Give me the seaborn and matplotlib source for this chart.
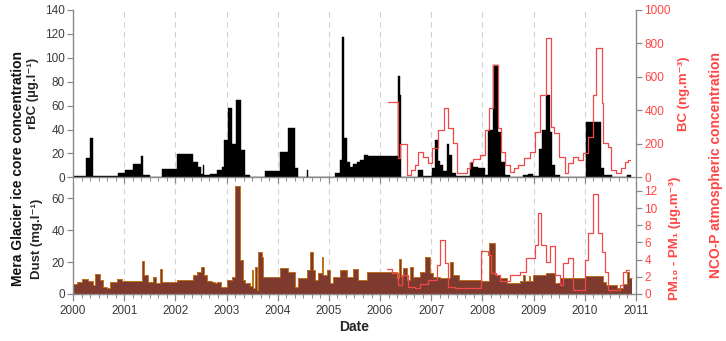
import numpy as np
import pandas as pd
import matplotlib
matplotlib.use("Agg")
import matplotlib.pyplot as plt
import seaborn as sns
from matplotlib.ticker import MultipleLocator, FixedLocator

# ---------------- data (decimal years) ----------------
# Mera glacier ice core rBC (ug/l): sample start dates and values
rbc_start = [2000.000, 2000.254, 2000.332, 2000.384, 2000.885, 2001.016, 2001.178, 2001.328,
             2001.374, 2001.504, 2001.732, 2002.025, 2002.337, 2002.435, 2002.493, 2002.533,
             2002.559, 2002.676, 2002.806, 2002.904, 2002.949, 2003.034, 2003.112, 2003.177,
             2003.275, 2003.359, 2003.457, 2003.750, 2004.043, 2004.206, 2004.336, 2004.401,
             2004.564, 2004.596, 2005.117, 2005.215, 2005.247, 2005.299, 2005.345, 2005.410,
             2005.475, 2005.540, 2005.605, 2005.690, 2005.768, 2006.354, 2006.380, 2006.406,
             2006.745, 2006.842, 2007.005, 2007.080, 2007.130, 2007.170, 2007.230, 2007.300,
             2007.350, 2007.410, 2007.490, 2007.750, 2007.820, 2007.920, 2008.050, 2008.110,
             2008.210, 2008.310, 2008.370, 2008.440, 2008.530, 2008.790, 2008.890, 2008.990,
             2009.110, 2009.160, 2009.240, 2009.310, 2009.350, 2009.410, 2009.510, 2010.020,
             2010.320, 2010.380, 2010.540, 2010.830]
rbc_end = 2010.900
rbc_value = [1.0, 16.5, 33, 0.8, 3.4, 6, 11, 18,
             2, 0.5, 7, 19.5, 13, 9, 3, 10,
             2, 3, 6, 9, 31, 58, 28, 65,
             22.6, 2, 0.6, 5.6, 21.5, 41.6, 7.5, 0.5,
             6, 0.3, 3.4, 14.5, 117, 33, 13, 9,
             11, 13, 14.5, 18.7, 18, 85, 69, 0.5,
             6, 1, 8, 31, 14, 10, 5, 28,
             19, 3.4, 1, 12, 9, 7.5, 2, 40,
             94, 38, 13, 2, 0.5, 2, 3, 1.5,
             24, 40, 69, 38, 10, 2, 0.6, 46,
             7.5, 2, 0.5, 2]

# NCO-P atmospheric BC (ng/m3)
bc_start = [2006.159, 2006.341, 2006.387, 2006.517, 2006.600, 2006.680, 2006.745, 2006.843,
            2006.940, 2007.005, 2007.135, 2007.246, 2007.331, 2007.428, 2007.493, 2007.690,
            2007.754, 2007.819, 2007.949, 2008.050, 2008.130, 2008.210, 2008.310, 2008.370,
            2008.440, 2008.530, 2008.610, 2008.690, 2008.820, 2008.920, 2009.020, 2009.120,
            2009.250, 2009.336, 2009.395, 2009.500, 2009.610, 2009.675, 2009.772, 2009.870,
            2009.967, 2010.065, 2010.163, 2010.228, 2010.326, 2010.358, 2010.456, 2010.521,
            2010.618, 2010.716, 2010.781, 2010.846]
bc_end = 2010.879
bc_value = [452, 114, 198, 14, 44, 74, 153, 124,
            84, 173, 283, 416, 293, 203, 28, 54,
            94, 108, 134, 283, 413, 673, 293, 154,
            74, 34, 54, 74, 114, 154, 273, 493,
            830, 303, 267, 124, 24, 84, 124, 104,
            143, 243, 492, 771, 442, 203, 183, 44,
            24, 54, 94, 104]

# Mera glacier ice core dust (mg/l)
dust_start = [2000.000, 2000.070, 2000.170, 2000.300, 2000.400, 2000.430, 2000.530, 2000.590,
              2000.660, 2000.720, 2000.850, 2000.950, 2001.340, 2001.390, 2001.470, 2001.570,
              2001.620, 2001.700, 2001.740, 2002.030, 2002.350, 2002.420, 2002.510, 2002.550,
              2002.610, 2002.710, 2002.770, 2002.810, 2002.900, 2003.000, 2003.100, 2003.160,
              2003.260, 2003.330, 2003.360, 2003.460, 2003.490, 2003.520, 2003.555, 2003.587,
              2003.620, 2003.685, 2003.717, 2004.043, 2004.206, 2004.336, 2004.401, 2004.564,
              2004.629, 2004.681, 2004.727, 2004.792, 2004.857, 2004.889, 2004.954, 2005.020,
              2005.085, 2005.215, 2005.345, 2005.475, 2005.573, 2005.736, 2006.322, 2006.360,
              2006.400, 2006.452, 2006.517, 2006.582, 2006.647, 2006.777, 2006.875, 2006.973,
              2007.038, 2007.168, 2007.360, 2007.420, 2007.550, 2007.980, 2008.130, 2008.240,
              2008.340, 2008.470, 2008.730, 2008.800, 2008.830, 2008.900, 2008.930, 2008.990,
              2009.250, 2009.410, 2009.510, 2009.640, 2010.000, 2010.360, 2010.420, 2010.620,
              2010.750, 2010.820, 2010.860]
dust_end = 2010.920
dust_value = [6.2, 7.7, 9.4, 8, 5.6, 12.7, 8.7, 4.6,
              4, 7.7, 9.4, 8.3, 20.6, 11.9, 7.7, 10.8,
              6.7, 15.6, 7.3, 8.7, 11.9, 14, 16.7, 11.9,
              8.1, 7.7, 6.7, 7.3, 4.6, 8.7, 10.8, 67.5,
              21, 8.75, 6.7, 5, 15, 3.5, 17, 2.5,
              26.5, 23, 10.8, 16.5, 14, 4.6, 9.8, 15,
              26.5, 15, 8.75, 13, 23, 11.9, 15, 6.7,
              10.8, 15, 10.8, 15.4, 8.75, 14, 10, 22,
              11, 16, 8.75, 17, 10.8, 14, 23, 13,
              10.8, 10, 20, 12, 8.5, 8, 32, 12,
              10, 7, 8, 12, 8, 11, 8, 12,
              13, 7, 10, 10, 11, 7.7, 5.6, 3.5,
              6, 14, 10]

# NCO-P atmospheric PM10 - PM1 (ug/m3)
pm_start = [2006.126, 2006.224, 2006.354, 2006.419, 2006.549, 2006.680, 2006.777, 2006.940,
            2007.103, 2007.168, 2007.266, 2007.330, 2007.460, 2007.980, 2008.110, 2008.170,
            2008.270, 2008.340, 2008.530, 2008.730, 2008.860, 2009.023, 2009.088, 2009.153,
            2009.250, 2009.316, 2009.414, 2009.512, 2009.577, 2009.675, 2009.772, 2010.000,
            2010.065, 2010.163, 2010.260, 2010.326, 2010.390, 2010.456, 2010.684, 2010.749,
            2010.814]
pm_end = 2010.870
pm_value = [2.9, 2.4, 1.0, 2.2, 0.85, 0.66, 1.2, 1.6,
            3.4, 6.3, 3.6, 0.85, 0.66, 5.0, 4.6, 2.4,
            2.2, 1.5, 2.2, 2.6, 4.2, 5.7, 9.4, 5.7,
            3.7, 5.6, 2.2, 1.05, 3.6, 4.2, 0.5, 4.0,
            7.1, 11.7, 7.1, 4.9, 2.6, 0.5, 1.05, 2.6,
            2.8]

years = list(range(2000, 2012))
year_labels = [str(y) for y in years]

# ---------------- style ----------------
sns.set_style("white")
plt.rcParams['font.family'] = ['Liberation Sans', 'DejaVu Sans']

RED = "#ff4545"
REDLINE = "#f04848"
GRAYSPINE = "#8a8a8a"
TICKTXT = "#3a3a3a"
DUST_FILL = "#7e3a2e"
DUST_EDGE = "#c2701c"

W, H = 726, 341
fig = plt.figure(figsize=(W / 100, H / 100), dpi=100)

def ax_rect(x0, y0, x1, y1):
    return [x0 / W, 1 - y1 / H, (x1 - x0) / W, (y1 - y0) / H]

ax1 = fig.add_axes(ax_rect(73, 10, 636, 177.3))
ax2 = fig.add_axes(ax_rect(73, 183, 636, 294))
ax1r = ax1.twinx()
ax2r = ax2.twinx()


def hist(ax, starts, end, values, **kw):
    edges = [float(s) for s in starts] + [float(end)]
    mids = [(a + b) / 2 for a, b in zip(edges[:-1], edges[1:])]
    df = pd.DataFrame({"date": mids, "value": [float(v) for v in values]})
    sns.histplot(data=df, x="date", weights="value", bins=edges, ax=ax, stat="count", **kw)


# year grid
for yr in years[1:-1]:
    ax1.axvline(yr, color="#d0d0d0", lw=0.8, ls=(0, (5, 4)), zorder=0)
    ax2.axvline(yr, color="#d0d0d0", lw=0.8, ls=(0, (5, 4)), zorder=0)

# top panel
hist(ax1, rbc_start, rbc_end, rbc_value, element="bars", color="black",
     edgecolor="black", linewidth=0.3, alpha=1)
hist(ax1r, bc_start, bc_end, bc_value, element="step", fill=False,
     color=REDLINE, linewidth=0.9)

# bottom panel
hist(ax2, dust_start, dust_end, dust_value, element="step", fill=True,
     color=DUST_FILL, alpha=1, linewidth=0)
hist(ax2, dust_start, dust_end, dust_value, element="step", fill=False,
     color=DUST_EDGE, linewidth=0.7)
hist(ax2r, pm_start, pm_end, pm_value, element="step", fill=False,
     color=REDLINE, linewidth=0.9)

# axes limits / ticks
for ax in (ax1, ax2, ax1r, ax2r):
    ax.set_xlim(2000, 2011)
    ax.xaxis.set_major_locator(FixedLocator(years))
    ax.xaxis.set_minor_locator(MultipleLocator(1 / 6))
    ax.set_xlabel("")
    ax.set_ylabel("")
    ax.patch.set_visible(False)

ax1.set_ylim(0, 140)
ax1.yaxis.set_major_locator(MultipleLocator(20))
ax1r.set_ylim(0, 1000)
ax1r.yaxis.set_major_locator(MultipleLocator(200))
ax2.set_ylim(0, 69.4)
ax2.yaxis.set_major_locator(FixedLocator([0, 20, 40, 60]))
ax2r.set_ylim(0, 12.93)
ax2r.yaxis.set_major_locator(FixedLocator([0, 2, 4, 6, 8, 10, 12]))

for ax in (ax1, ax2):
    for s in ("top", "right"):
        ax.spines[s].set_visible(False)
    for s in ("left", "bottom"):
        ax.spines[s].set_color(GRAYSPINE)
        ax.spines[s].set_linewidth(1.0)
    ax.tick_params(axis="y", which="major", direction="out", length=4, width=0.9,
                   color=GRAYSPINE, labelsize=8.5, labelcolor=TICKTXT, pad=2, left=True)
    ax.tick_params(axis="x", which="major", direction="out", length=5, width=0.9,
                   color=GRAYSPINE, bottom=True)
    ax.tick_params(axis="x", which="minor", direction="out", length=3, width=0.7,
                   color=GRAYSPINE, bottom=True)

for ax in (ax1r, ax2r):
    for s in ("top", "left", "bottom"):
        ax.spines[s].set_visible(False)
    ax.spines["right"].set_color(GRAYSPINE)
    ax.spines["right"].set_linewidth(1.0)
    ax.tick_params(axis="y", which="major", direction="out", length=4, width=0.9,
                   color=GRAYSPINE, labelsize=8.5, labelcolor=RED, pad=2, right=True)
    ax.tick_params(axis="x", which="both", bottom=False, labelbottom=False)

ax1.tick_params(axis="x", labelbottom=False)
ax2.set_xticklabels(year_labels)
ax2.tick_params(axis="x", labelsize=8.5, labelcolor=TICKTXT, pad=3)

# labels
ax2.set_xlabel("Date", fontsize=10, fontweight="bold", labelpad=2)
ax1.set_ylabel("rBC (µg.l⁻¹)", fontsize=9.5, fontweight="bold", labelpad=4)
ax2.set_ylabel("Dust (mg.l⁻¹)", fontsize=9.5, fontweight="bold", labelpad=6)
ax1r.set_ylabel("BC (ng.m⁻³)", fontsize=9.5, fontweight="bold", color=RED, labelpad=5)
ax2r.set_ylabel("PM₁₀ - PM₁ (µg.m⁻³)", fontsize=9.5, fontweight="bold", color=RED, labelpad=8)

fig.text(18 / W, 1 - 168 / H, "Mera Glacier ice core concentration", rotation=90,
         ha="center", va="center", fontsize=10, fontweight="bold", color="#111111")
fig.text(716 / W, 1 - 165 / H, "NCO-P atmospheric concentration", rotation=90,
         ha="center", va="center", fontsize=10, fontweight="bold", color=RED)

fig.savefig("out.png", dpi=100)
